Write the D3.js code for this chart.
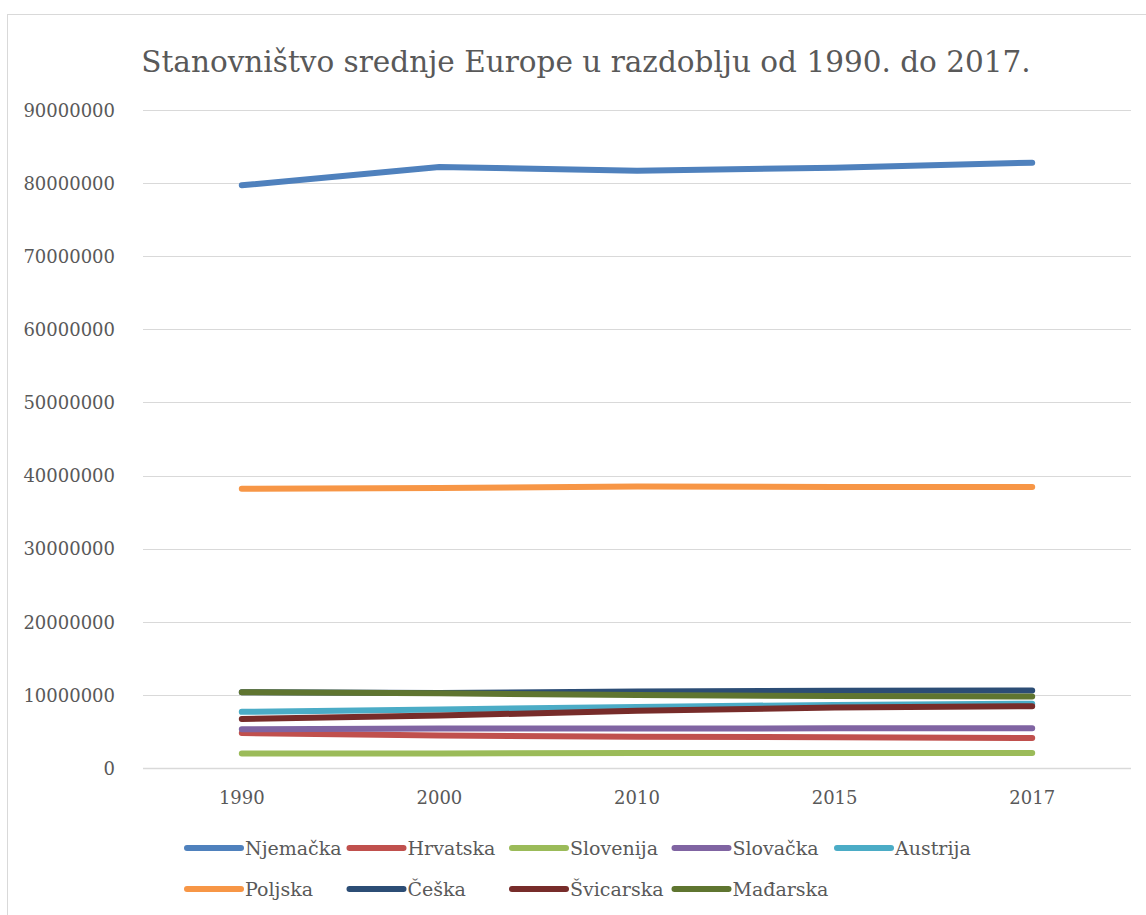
<!DOCTYPE html>
<html>
<head>
<meta charset="utf-8">
<script src="https://cdn.jsdelivr.net/npm/d3@7"></script>
<style>
  body { margin: 0; background: #fff; }
  text { font-family: "DejaVu Serif", serif; fill: #595959; }
</style>
</head>
<body>
<div id="chart"></div>
<script>
var years = ["1990", "2000", "2010", "2015", "2017"];
var yTicks = [0, 10000000, 20000000, 30000000, 40000000, 50000000, 60000000, 70000000, 80000000, 90000000];

var njemacka = [79700000, 82200000, 81700000, 82100000, 82800000];
var hrvatska = [4780000, 4430000, 4290000, 4200000, 4100000];
var slovenija = [1998000, 1989000, 2048000, 2063000, 2066000];
var slovacka = [5300000, 5390000, 5390000, 5420000, 5440000];
var austrija = [7680000, 8010000, 8360000, 8630000, 8800000];
var poljska = [38200000, 38300000, 38500000, 38450000, 38430000];
var ceska = [10360000, 10270000, 10470000, 10550000, 10590000];
var svicarska = [6710000, 7180000, 7820000, 8280000, 8450000];
var madarska = [10370000, 10210000, 10000000, 9840000, 9780000];

var seriesNames = ["Njemačka", "Hrvatska", "Slovenija", "Slovačka", "Austrija", "Poljska", "Češka", "Švicarska", "Mađarska"];
var seriesValues = [njemacka, hrvatska, slovenija, slovacka, austrija, poljska, ceska, svicarska, madarska];
var colors = ["#4F81BD", "#C0504D", "#9BBB59", "#8064A2", "#4BACC6", "#F79646", "#2C4D75", "#772C2A", "#5F7530"];

var width = 1146;
var height = 915;
var serif = "'DejaVu Serif', serif";

var svg = d3.select("#chart")
  .append("svg")
  .attr("width", width)
  .attr("height", height);

// outer chart border (cut off on right / bottom like the screenshot)
svg.append("rect")
  .attr("x", 7.5).attr("y", 14.5)
  .attr("width", 1200).attr("height", 1000)
  .attr("fill", "#fff")
  .attr("stroke", "#d9d9d9")
  .attr("stroke-width", 1);

svg.append("text")
  .attr("x", 586)
  .attr("y", 72)
  .attr("text-anchor", "middle")
  .style("font-size", "29.5px")
  .style("font-family", serif)
  .text("Stanovništvo srednje Europe u razdoblju od 1990. do 2017.");

var plotLeft = 143, plotRight = 1131, plotTop = 110, plotBottom = 768;

var x = d3.scaleBand().domain(years).range([plotLeft, plotRight]);
var y = d3.scaleLinear().domain([0, 90000000]).range([plotBottom, plotTop]);

// gridlines
svg.append("g")
  .selectAll("line")
  .data(yTicks)
  .enter()
  .append("line")
  .attr("x1", plotLeft).attr("x2", plotRight)
  .attr("y1", d => Math.round(y(d)) + 0.5)
  .attr("y2", d => Math.round(y(d)) + 0.5)
  .attr("stroke", "#d9d9d9")
  .attr("stroke-width", d => d === 0 ? 1.5 : 1);

// y labels
var yAxis = svg.append("g")
  .attr("transform", "translate(" + (plotLeft - 28) + ",0)")
  .call(d3.axisLeft(y).tickValues(yTicks).tickFormat(d3.format("d")).tickSize(0));
yAxis.select(".domain").remove();
yAxis.selectAll("text")
  .attr("x", 0)
  .attr("dy", "0.35em")
  .style("font-size", "18px")
  .style("font-family", serif)
  .style("fill", "#595959");

// x labels
var xAxis = svg.append("g")
  .attr("transform", "translate(0," + plotBottom + ")")
  .call(d3.axisBottom(x).tickSize(0));
xAxis.select(".domain").remove();
xAxis.selectAll("text")
  .attr("y", 23)
  .attr("dy", "0.71em")
  .style("font-size", "18px")
  .style("font-family", serif)
  .style("fill", "#595959");

var line = d3.line()
  .x((d, i) => x(years[i]) + x.bandwidth() / 2)
  .y(d => y(d));

svg.append("g")
  .selectAll("path")
  .data(seriesValues)
  .enter()
  .append("path")
  .attr("d", line)
  .attr("fill", "none")
  .attr("stroke", (d, i) => colors[i])
  .attr("stroke-width", 6)
  .attr("stroke-linecap", "round")
  .attr("stroke-linejoin", "round");

// legend
var legend = svg.append("g")
  .selectAll("g")
  .data(seriesNames)
  .enter()
  .append("g")
  .attr("transform", (d, i) => "translate(" + (187 + (i % 5) * 162.5) + "," + (i < 5 ? 848 : 889) + ")");

legend.append("line")
  .attr("x1", 0).attr("x2", 54)
  .attr("stroke", (d, i) => colors[i])
  .attr("stroke-width", 6)
  .attr("stroke-linecap", "round");

legend.append("text")
  .attr("x", 58)
  .attr("dy", "0.35em")
  .style("font-size", "19px")
  .style("font-family", serif)
  .text(d => d);
</script>
</body>
</html>
